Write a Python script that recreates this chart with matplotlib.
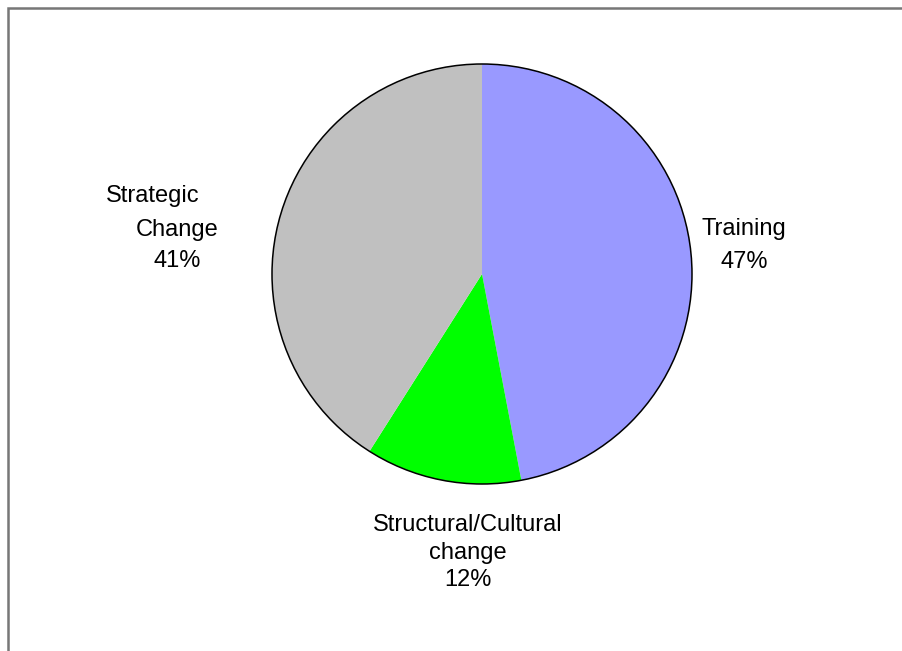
import matplotlib.pyplot as plt
from matplotlib.patches import Circle

plt.rcParams['font.family'] = ['Liberation Sans', 'DejaVu Sans']

categories = ["Training", "Structural/Cultural\nchange", "Strategic\nChange"]
shares = [47, 12, 41]
colors = ["#9999FF", "#00FF00", "#C0C0C0"]

W, H = 902, 651
fig = plt.figure(figsize=(W / 100, H / 100), dpi=100)
ax = fig.add_axes([0, 0, 1, 1])

cx, cy, r = 482, H - 274, 210
ax.pie(shares, colors=colors, startangle=90, counterclock=False,
       center=(cx, cy), radius=r, wedgeprops=dict(linewidth=0),
       frame=True)
ax.add_patch(Circle((cx, cy), r, fill=False, edgecolor="black", lw=1.1))
ax.set_xlim(0, W)
ax.set_ylim(0, H)
ax.set_aspect("equal")
ax.axis("off")

# label lines: (x centre, y centre) per line, in pixels from top-left
line_pos = [
    [(744, 229), (744, 262)],
    [(468, 525), (468, 553), (468, 580)],
    [(153, 196), (177, 230), (177, 261)],
]
for name, val, pos in zip(categories, shares, line_pos):
    lines = name.split("\n") + [f"{val}%"]
    for txt, (x, y) in zip(lines, pos):
        ax.text(x, H - y, txt, ha="center", va="center", fontsize=17,
                color="black")

# chart area border (top and left edges)
ax.plot([8, 8, W], [0, H - 8, H - 8], color="#777777", lw=1.8,
        solid_joinstyle="miter", clip_on=False)

fig.savefig("out.png", dpi=100)
